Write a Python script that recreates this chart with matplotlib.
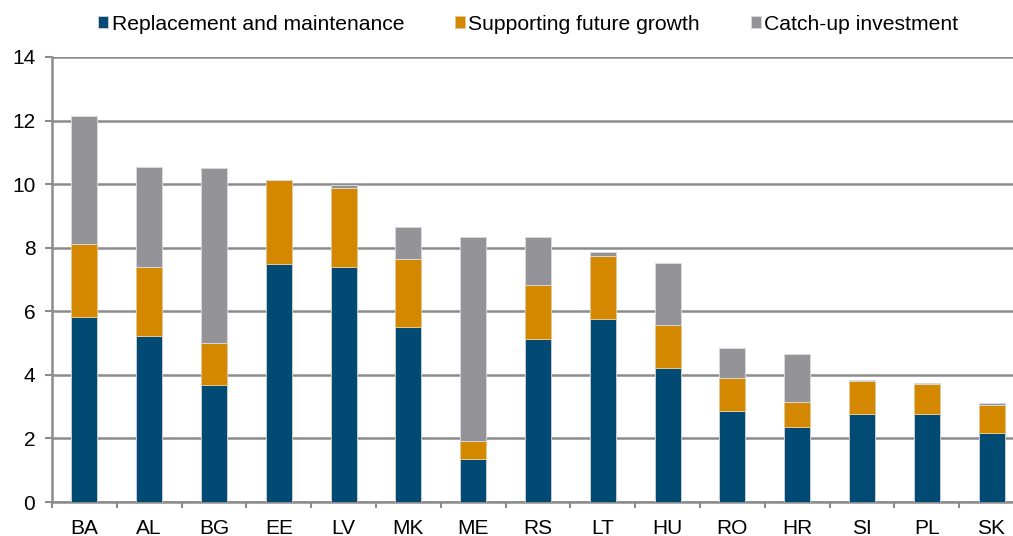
import numpy as np
import matplotlib.pyplot as plt

plt.rcParams['font.family'] = ['Liberation Sans', 'DejaVu Sans']

countries = ["BA", "AL", "BG", "EE", "LV", "MK", "ME", "RS", "LT", "HU", "RO", "HR", "SI", "PL", "SK"]
replacement = [5.82, 5.22, 3.68, 7.49, 7.39, 5.50, 1.35, 5.13, 5.76, 4.22, 2.86, 2.36, 2.77, 2.77, 2.17]
growth = [2.30, 2.17, 1.32, 2.64, 2.49, 2.14, 0.57, 1.70, 1.98, 1.35, 1.04, 0.79, 1.04, 0.94, 0.88]
catchup = [4.02, 3.15, 5.50, 0.0, 0.09, 1.01, 6.42, 1.51, 0.12, 1.95, 0.94, 1.51, 0.03, 0.03, 0.06]

c_blue = "#004a73"
c_orange = "#d48800"
c_gray = "#939398"

fig = plt.figure(figsize=(10.13, 5.36), dpi=100)
# axes run past the right edge of the figure, as in the original
ax = fig.add_axes([0.0513, 0.0634, 0.9595, 0.8303])

x = np.arange(len(countries))
w = 0.4
b1 = np.array(replacement)
b2 = b1 + np.array(growth)
ax.bar(x, replacement, w, color=c_blue, edgecolor="#c8ccd2", linewidth=0.7, label="Replacement and maintenance", zorder=3)
ax.bar(x, growth, w, bottom=b1, color=c_orange, edgecolor="#e0c890", linewidth=0.7, label="Supporting future growth", zorder=3)
ax.bar(x, catchup, w, bottom=b2, color=c_gray, edgecolor="#d8d8d8", linewidth=0.7, label="Catch-up investment", zorder=3)

ax.set_xlim(-0.5, len(countries) - 0.5)
ax.set_ylim(0, 14)
ax.set_yticks(range(0, 15, 2))
ax.grid(axis='y', color="#8c8c8c", linewidth=1.8, zorder=0)
ax.set_xticks(x)
ax.set_xticklabels(countries)
ax.set_xticks(np.arange(-0.5, len(countries), 1), minor=True)
ax.tick_params(axis='x', which='major', length=0, labelsize=15, pad=12)
ax.tick_params(axis='x', which='minor', length=4, width=1.5, color="#8c8c8c", direction='out')
ax.tick_params(axis='y', length=5, width=1.5, color="#8c8c8c", labelsize=15, pad=7)
for s in ['top', 'right']:
    ax.spines[s].set_visible(False)
for s in ['left', 'bottom']:
    ax.spines[s].set_color("#8c8c8c")
    ax.spines[s].set_linewidth(1.8)

ax.legend(loc='lower center', bbox_to_anchor=(0.49, 1.01), ncol=3, frameon=False,
          fontsize=15.2, handlelength=0.5, handleheight=0.5, handletextpad=0.15, columnspacing=2.4)

fig.savefig("out.png", dpi=100)
